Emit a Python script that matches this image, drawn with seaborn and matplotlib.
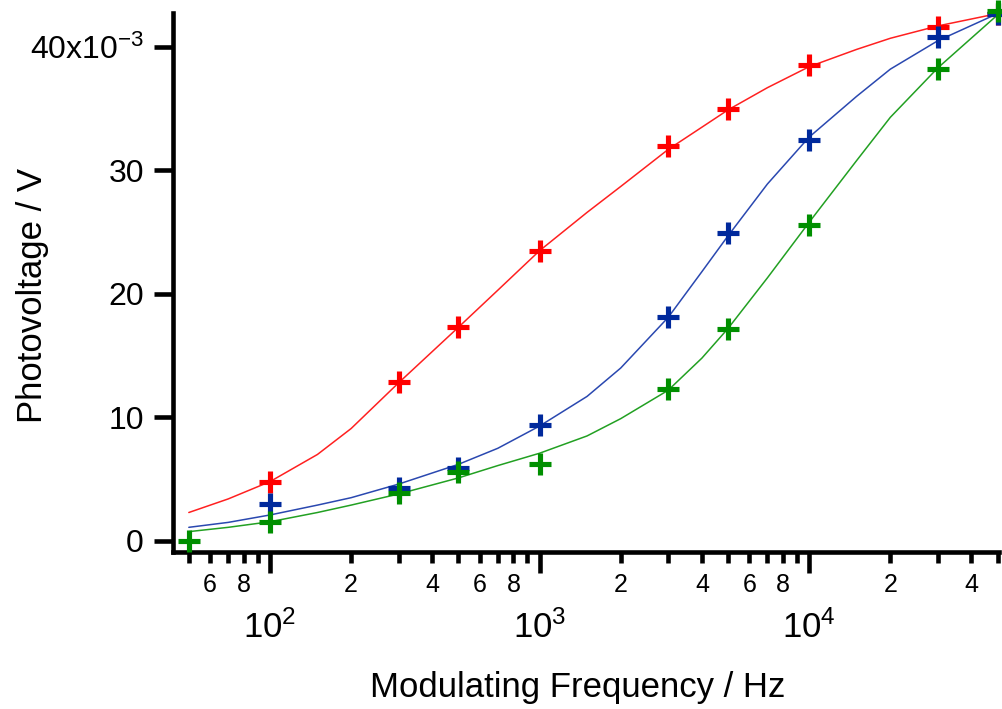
import numpy as np
import pandas as pd
import matplotlib
matplotlib.use("Agg")
import matplotlib.pyplot as plt
from matplotlib.ticker import FixedLocator, FuncFormatter, LogLocator, NullLocator
import seaborn as sns

# ---- measured points (frequency in Hz, photovoltage in mV) ----
freq_pts = [100, 300, 500, 1000, 3000, 5000, 10000, 30000, 50000]
red_pts = [4.8, 12.9, 17.3, 23.5, 32.0, 35.0, 38.5, 41.6, 42.7]
blue_pts = [3.0, 4.3, 5.9, 9.4, 18.1, 24.9, 32.5, 40.8, 42.7]
freq_pts_green = [50, 100, 300, 500, 1000, 3000, 5000, 10000, 30000, 50000]
green_pts = [0.0, 1.5, 3.9, 5.6, 6.2, 12.3, 17.2, 25.6, 38.2, 42.9]

# ---- fitted curves ----
freq_fit = [50, 70, 100, 150, 200, 300, 500, 700, 1000, 1500, 2000, 3000,
            4000, 5000, 7000, 10000, 15000, 20000, 30000, 50000]
red_fit = [2.3, 3.4, 4.8, 7.0, 9.1, 12.8, 17.3, 20.3, 23.5, 26.6, 28.7, 31.7,
           33.5, 34.9, 36.7, 38.4, 39.8, 40.7, 41.7, 42.7]
blue_fit = [1.1, 1.5, 2.1, 2.9, 3.5, 4.6, 6.2, 7.5, 9.3, 11.7, 14.0, 18.1,
            21.8, 24.7, 28.9, 32.7, 36.0, 38.2, 40.5, 42.7]
green_fit = [0.75, 1.1, 1.55, 2.3, 2.9, 3.8, 5.1, 6.1, 7.1, 8.5, 9.9, 12.2,
             14.8, 17.2, 21.3, 25.8, 30.8, 34.3, 38.3, 42.6]

x_ticks_major = [100, 1000, 10000]
y_ticks = [0, 10, 20, 30, 40]
y_tick_labels = ["0", "10", "20", "30", "40x10$\\mathregular{^{-3}}$"]

RED = "#ff0000"
BLUE = "#00299c"
GREEN = "#008f00"
RED_LINE = "#ff2020"
BLUE_LINE = "#2a48b0"
GREEN_LINE = "#22a022"

sns.set_style("ticks")
plt.rcParams["font.family"] = ["Liberation Sans", "DejaVu Sans"]
plt.rcParams["mathtext.fontset"] = "custom"
plt.rcParams["mathtext.rm"] = "Liberation Sans"
plt.rcParams["mathtext.it"] = "Liberation Sans:italic"
plt.rcParams["mathtext.bf"] = "Liberation Sans:bold"
plt.rcParams["mathtext.default"] = "regular"
plt.rcParams["text.color"] = "black"
plt.rcParams["axes.labelcolor"] = "black"
plt.rcParams["xtick.color"] = "black"
plt.rcParams["ytick.color"] = "black"
plt.rcParams["xtick.labelcolor"] = "black"
plt.rcParams["ytick.labelcolor"] = "black"

fig = plt.figure(figsize=(10.02, 7.09), dpi=100)
ax = fig.add_axes([0.1727, 0.2214, 0.8243, 0.7603])
ax.set_xscale("log")

fit_df = pd.DataFrame({
    "f": freq_fit * 3,
    "v": np.array(red_fit + blue_fit + green_fit) * 1e-3,
    "s": ["red"] * len(freq_fit) + ["blue"] * len(freq_fit) + ["green"] * len(freq_fit),
})
sns.lineplot(data=fit_df, x="f", y="v", hue="s",
             palette={"red": RED_LINE, "blue": BLUE_LINE, "green": GREEN_LINE},
             linewidth=1.1, legend=False, ax=ax, estimator=None, sort=True)

for fx, vals, col in [(freq_pts, red_pts, RED), (freq_pts, blue_pts, BLUE),
                      (freq_pts_green, green_pts, GREEN)]:
    sns.scatterplot(x=fx, y=np.array(vals) * 1e-3, marker="+", s=16 ** 2,
                    linewidth=3.7, color=col, ax=ax, legend=False,
                    clip_on=False, zorder=5)

ax.set_xlim(43.7, 50600)
ax.set_ylim(-0.9e-3, 42.75e-3)

# spines
for s in ["top", "right"]:
    ax.spines[s].set_visible(False)
for s in ["left", "bottom"]:
    ax.spines[s].set_linewidth(3.3)
    ax.spines[s].set_color("black")

# x ticks
ax.xaxis.set_major_locator(FixedLocator(x_ticks_major))
ax.xaxis.set_minor_locator(LogLocator(base=10, subs=np.arange(2, 10), numticks=20))
ax.xaxis.set_major_formatter(FuncFormatter(
    lambda v, p: "$\\mathregular{10^{%d}}$" % int(round(np.log10(v)))))


def minor_fmt(v, p):
    m = v / 10 ** np.floor(np.log10(v) + 1e-9)
    d = int(round(m))
    return str(d) if d in (2, 4, 6, 8) else ""


ax.xaxis.set_minor_formatter(FuncFormatter(minor_fmt))
ax.tick_params(axis="x", which="major", direction="out", length=15, width=3.3,
               labelsize=25, pad=27, color="black", labelcolor="black")
ax.tick_params(axis="x", which="minor", direction="out", length=8, width=3.3,
               labelsize=18, pad=7, color="black", labelcolor="black")

# y ticks
ax.set_yticks(np.array(y_ticks) * 1e-3)
ax.set_yticklabels(y_tick_labels)
ax.yaxis.set_minor_locator(NullLocator())
ax.tick_params(axis="y", which="major", direction="out", length=14, width=3.3,
               labelsize=23, pad=7, color="black", labelcolor="black")

ax.set_xlabel("Modulating Frequency / Hz", fontsize=25, color="black")
ax.set_ylabel("Photovoltage / V", fontsize=25, color="black")
ax.xaxis.set_label_coords(0.49, -0.221)
ax.yaxis.set_label_coords(-0.150, 0.476)

ax.grid(False)
fig.savefig("out.png", dpi=100)
